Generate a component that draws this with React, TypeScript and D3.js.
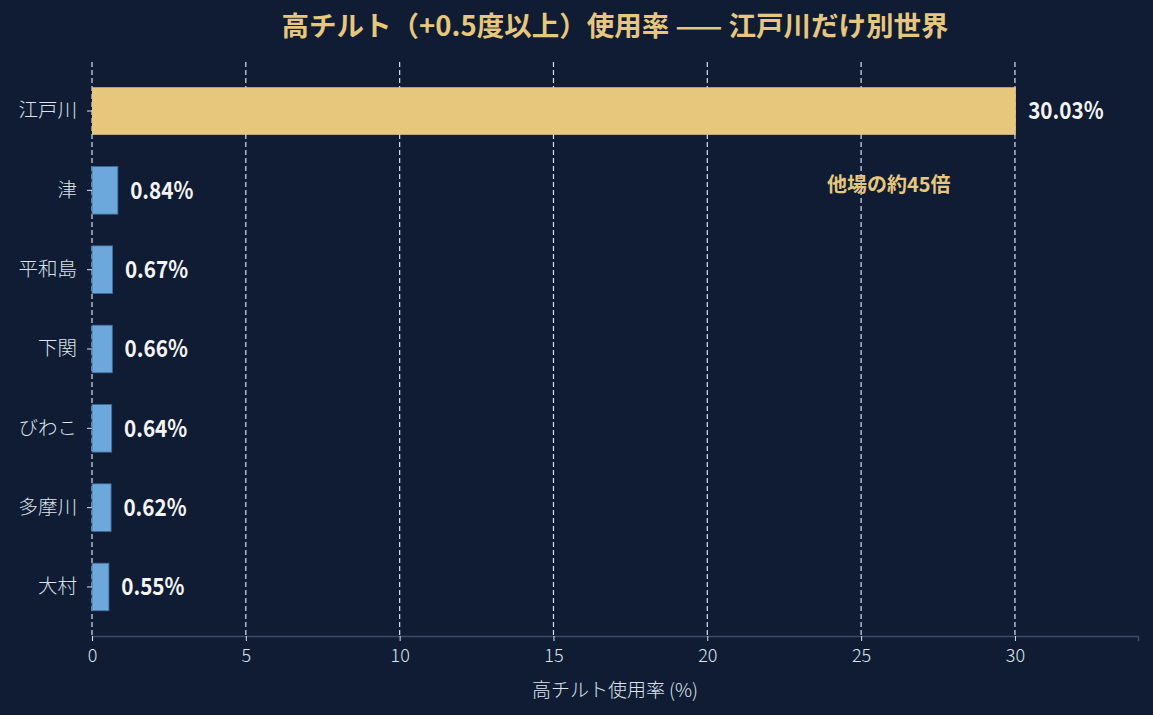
import React, { useEffect, useRef } from 'react';
import * as d3 from 'd3';

// 高チルト使用率 (%) by venue
const venues = ['江戸川', '津', '平和島', '下関', 'びわこ', '多摩川', '大村'];
const rates = [30.03, 0.84, 0.67, 0.66, 0.64, 0.62, 0.55];
const xTicks = [0, 5, 10, 15, 20, 25, 30];

const W = 1153;
const H = 715;
const FONT = '"Noto Sans CJK JP", "Noto Sans", sans-serif';
const BG = '#0f1c33';
const GOLD = '#e6c77b';
const BLUE = '#6ca8db';

export default function App() {
  const svgRef = useRef<SVGSVGElement>(null);

  useEffect(() => {
    const svg = d3.select(svgRef.current);
    svg.selectAll('*').remove();

    const left = 92, right = 1138, top = 62, bottom = 636;

    const x = d3.scaleLinear().domain([0, 34]).range([left, right]);
    const y = d3.scaleBand<string>()
      .domain(venues)
      .range([top, bottom])
      .paddingInner(0.4)
      .paddingOuter(0.318);

    svg.append('rect').attr('width', W).attr('height', H).attr('fill', BG);

    // vertical dashed grid
    svg.append('g')
      .selectAll('line')
      .data(xTicks)
      .enter()
      .append('line')
      .attr('x1', d => x(d))
      .attr('x2', d => x(d))
      .attr('y1', top)
      .attr('y2', bottom)
      .attr('stroke', '#d6e2f2')
      .attr('stroke-width', 1.2)
      .attr('stroke-dasharray', '5,3');

    // bars
    svg.append('g')
      .selectAll('rect')
      .data(rates)
      .enter()
      .append('rect')
      .attr('x', x(0))
      .attr('y', (d, i) => y(venues[i])!)
      .attr('width', d => x(d) - x(0))
      .attr('height', y.bandwidth())
      .attr('fill', (d, i) => (i === 0 ? GOLD : BLUE))
      .attr('stroke', (d, i) => (i === 0 ? 'none' : '#3f6c9a'))
      .attr('stroke-width', 0.8);

    // value labels (slightly narrowed)
    svg.append('g')
      .selectAll('text')
      .data(rates)
      .enter()
      .append('text')
      .attr('transform', (d, i) =>
        `translate(${x(d + 0.4)},${y(venues[i])! + y.bandwidth() / 2}) scale(0.88,1)`)
      .attr('dy', '0.35em')
      .attr('fill', '#f4f4f4')
      .style('font-family', FONT)
      .style('font-size', '23.5px')
      .style('font-weight', 'bold')
      .text(d => `${d.toFixed(2)}%`);

    // bottom axis
    const xAxis = svg.append('g')
      .attr('transform', `translate(0,${bottom})`)
      .call(d3.axisBottom(x).tickValues(xTicks).tickSize(5).tickPadding(8).tickFormat(d3.format('d')));
    xAxis.select('.domain').attr('stroke', '#3b4b68').attr('stroke-width', 1.5);
    xAxis.selectAll('.tick line').attr('stroke', '#d6e2f2');
    xAxis.selectAll('.tick text')
      .attr('fill', '#dde3ec')
      .style('font-family', FONT)
      .style('font-size', '18px')
      .style('font-weight', 300);

    // left axis (labels only)
    const yAxis = svg.append('g')
      .attr('transform', `translate(${left},0)`)
      .call(d3.axisLeft(y).tickSize(5).tickPadding(10));
    yAxis.select('.domain').remove();
    yAxis.selectAll('.tick line').attr('stroke', '#d6e2f2');
    yAxis.selectAll('.tick text')
      .attr('fill', '#dde3ec')
      .style('font-family', FONT)
      .style('font-size', '19.5px')
      .style('font-weight', 300);

    // annotation
    svg.append('text')
      .attr('x', x(25.9))
      .attr('y', y('江戸川')! + y.step() * 0.93 + y.bandwidth() / 2)
      .attr('dy', '0.35em')
      .attr('text-anchor', 'middle')
      .attr('fill', GOLD)
      .style('font-family', FONT)
      .style('font-size', '20px')
      .style('font-weight', 'bold')
      .text('他場の約45倍');

    // title
    svg.append('text')
      .attr('x', 615)
      .attr('y', 36)
      .attr('text-anchor', 'middle')
      .attr('fill', GOLD)
      .style('font-family', FONT)
      .style('font-size', '27.5px')
      .style('font-weight', 'bold')
      .text('高チルト（+0.5度以上）使用率 —— 江戸川だけ別世界');

    // x axis label
    svg.append('text')
      .attr('x', (left + right) / 2)
      .attr('y', 697)
      .attr('text-anchor', 'middle')
      .attr('fill', '#dde3ec')
      .style('font-family', FONT)
      .style('font-size', '19px')
      .style('font-weight', 300)
      .text('高チルト使用率 (%)');
  }, []);

  return (
    <svg
      ref={svgRef}
      width={W}
      height={H}
      style={{ position: 'absolute', left: 0, top: 0, display: 'block' }}
    />
  );
}
